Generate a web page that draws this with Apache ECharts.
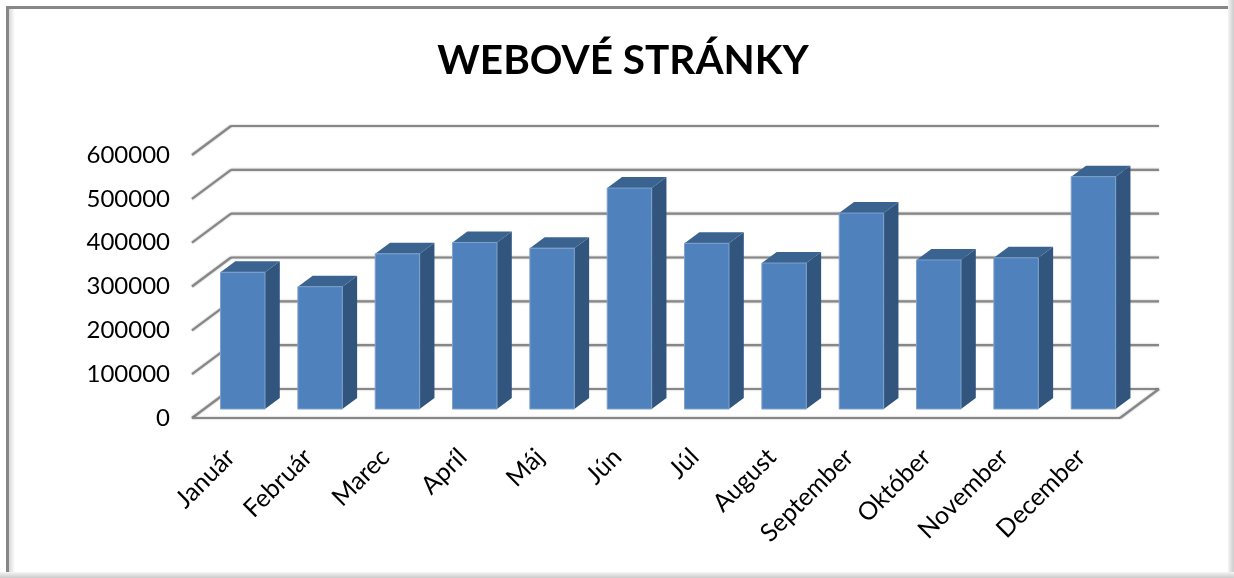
<!DOCTYPE html>
<html><head><meta charset="utf-8">
<style>html,body{margin:0;padding:0;background:#fff}#c{width:1234px;height:578px}</style>
<script src="https://cdn.jsdelivr.net/npm/echarts@6/dist/echarts.min.js"></script>
</head><body><div id="c"></div>
<script>
const categories = ['Január','Február','Marec','Apríl','Máj','Jún','Júl','August','September','Október','November','December'];
const visits = [312000,279000,354000,380000,367000,504000,378000,333000,447000,340000,345000,530000];
const yTicks = [0,100000,200000,300000,400000,500000,600000];

const DEPTH_X = 39, DEPTH_Y = 29;
const BAR_NEAR = 9 / 29, BAR_FAR = 20 / 29, BAR_RATIO = 0.575;
const C_FRONT = '#4F81BD', C_SIDE = '#31557D', C_TOP = '#3B6390', C_GRID = '#878787';

const chart = echarts.init(document.getElementById('c'), null, {renderer:'canvas'});

function line(x1,y1,x2,y2){
  return {type:'line',shape:{x1,y1,x2,y2},style:{stroke:C_GRID,lineWidth:2.2,shadowColor:'rgba(0,0,0,0.3)',shadowBlur:2}};
}
function poly(points,fill){
  return {type:'polygon',shape:{points},style:{fill}};
}
function renderWall(params, api){
  const cs = params.coordSys;
  const v = api.value(0);
  const y = api.coord([0,v])[1];
  const L = cs.x, R = cs.x + cs.width;
  const kids = [
    line(L,y,L+DEPTH_X,y-DEPTH_Y),
    line(L+DEPTH_X,y-DEPTH_Y,R+DEPTH_X,y-DEPTH_Y)
  ];
  if (v === 0) {
    kids.push(line(L,y,R,y));
    kids.push(line(R,y,R+DEPTH_X,y-DEPTH_Y));
  }
  return {type:'group',children:kids};
}
function renderBar(params, api){
  const idx = api.value(0), val = api.value(1);
  const top = api.coord([idx,val]), base = api.coord([idx,0]);
  const w = api.size([1,0])[0] * BAR_RATIO;
  const nx = DEPTH_X*BAR_NEAR, ny = DEPTH_Y*BAR_NEAR;
  const fx = DEPTH_X*BAR_FAR, fy = DEPTH_Y*BAR_FAR;
  const dx = fx-nx, dy = fy-ny;
  const x0 = top[0]-w/2+nx, x1 = x0+w;
  const yt = top[1]-ny, yb = base[1]-ny;
  return {type:'group',children:[
    poly([[x1,yt],[x1+dx,yt-dy],[x1+dx,yb-dy],[x1,yb]],C_SIDE),
    poly([[x0,yt],[x0+dx,yt-dy],[x1+dx,yt-dy],[x1,yt]],C_TOP),
    {type:'rect',shape:{x:x0,y:yt,width:w,height:yb-yt},style:{fill:C_FRONT,stroke:'#7EA1CC',lineWidth:1}}
  ]};
}

const grad = (x,y,x2,y2,a,b)=>({type:'linear',x,y,x2,y2,colorStops:[{offset:0,color:a},{offset:1,color:b}]});

chart.setOption({
  animation:false,
  backgroundColor:'#fff',
  title:{text:'WEBOVÉ STRÁNKY',left:618,textAlign:'center',top:35,itemGap:0,
    textStyle:{fontFamily:'Lato',fontWeight:'bold',fontSize:40.5,color:'#000'}},
  grid:{left:192,top:155,width:928,height:263},
  xAxis:{type:'category',data:categories,
    axisLine:{show:false},axisTick:{show:false},
    axisLabel:{rotate:45,interval:0,margin:35,fontFamily:'Lato',fontSize:25,color:'#000'}},
  yAxis:{type:'value',min:0,max:600000,interval:100000,
    axisLine:{show:false},axisTick:{show:false},splitLine:{show:false},
    axisLabel:{margin:22,fontFamily:'Lato',fontSize:24,color:'#000',padding:[4,0,0,0],formatter:v=>String(v)}},
  series:[
    {type:'custom',name:'mriežka',z:1,silent:true,clip:false,renderItem:renderWall,
      data:yTicks.map(v=>[v]),encode:{y:0}},
    {type:'custom',name:'Návštevy',z:2,clip:false,renderItem:renderBar,
      data:visits.map((v,i)=>[i,v]),encode:{x:0,y:1}}
  ],
  graphic:[
    {type:'rect',z:0,shape:{x:6,y:6,width:1222,height:3},style:{fill:'#878787'}},
    {type:'rect',z:0,shape:{x:6,y:6,width:3,height:566},style:{fill:'#878787'}},
    {type:'rect',z:0,shape:{x:9,y:9,width:6,height:563},style:{fill:grad(0,0,1,0,'#d8d8d8','#ffffff')}},
    {type:'rect',z:0,shape:{x:1228,y:0,width:6,height:578},style:{fill:grad(0,0,1,0,'#f5f5f5','#cbcbcb')}},
    {type:'rect',z:0,shape:{x:0,y:572,width:1234,height:6},style:{fill:grad(0,0,0,1,'#f5f5f5','#cbcbcb')}}
  ]
});
</script></body></html>
